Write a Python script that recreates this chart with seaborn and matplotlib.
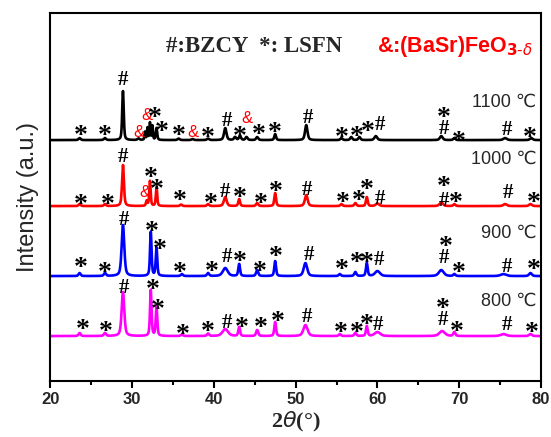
import numpy as np
import pandas as pd
import matplotlib
matplotlib.use("Agg")
import matplotlib.pyplot as plt
import seaborn as sns
from matplotlib.ticker import MultipleLocator

# ---------------- data ----------------
series_names = ["1100 ℃", "1000 ℃", "900 ℃", "800 ℃"]
series_colors = ["#000000", "#FF0000", "#0000FF", "#FF00FF"]
baselines = [241, 175, 105, 45]

# peak positions (2θ), heights, FWHM for each series
pk_1100 = [23.6, 26.7, 28.9, 30.8, 31.6, 31.9, 32.2, 32.5, 33.0, 35.7, 37.4, 39.3, 41.4, 42.6, 43.2, 44.0, 45.3, 47.5, 51.3, 55.6, 56.8, 57.8, 59.8, 67.8, 69.4, 75.6, 78.8]
ht_1100 = [2, 2, 49, 1.5, 8, 12, 17, 14, 12, 1.5, 1, 1.5, 12, 3, 4, 3, 3, 6, 15, 2, 3, 3, 4, 4, 2, 2, 2]
wd_1100 = [0.3, 0.3, 0.22, 0.3, 0.15, 0.15, 0.15, 0.15, 0.2, 0.3, 0.3, 0.3, 0.35, 0.3, 0.3, 0.3, 0.3, 0.25, 0.35, 0.3, 0.3, 0.3, 0.4, 0.4, 0.3, 0.5, 0.4]

pk_1000 = [23.6, 26.7, 28.9, 31.8, 32.2, 33.0, 36.0, 39.3, 41.4, 43.1, 45.3, 47.5, 51.3, 55.6, 57.3, 58.7, 60.0, 67.8, 69.4, 75.6, 78.7]
ht_1000 = [2, 2, 41, 5, 25, 19, 1.5, 2, 9, 7, 3, 13, 11, 2, 3, 9, 2.5, 3.5, 2, 2, 2]
wd_1000 = [0.3, 0.3, 0.27, 0.2, 0.2, 0.2, 0.3, 0.3, 0.4, 0.25, 0.3, 0.25, 0.4, 0.3, 0.3, 0.25, 0.5, 0.5, 0.3, 0.5, 0.4]

pk_900 = [23.6, 26.7, 28.9, 32.3, 33.0, 36.1, 39.3, 41.4, 43.1, 45.3, 47.5, 51.2, 55.4, 57.3, 58.7, 60.0, 67.8, 69.4, 75.4, 78.7]
ht_900 = [3, 3, 51, 44, 28, 2, 3, 8, 12, 6, 15, 13, 2, 4, 13, 5, 6, 2, 2, 3]
wd_900 = [0.3, 0.3, 0.38, 0.22, 0.22, 0.3, 0.3, 0.7, 0.25, 0.3, 0.25, 0.5, 0.3, 0.3, 0.25, 0.7, 0.7, 0.3, 0.8, 0.4]

pk_800 = [23.6, 26.7, 28.9, 32.3, 33.0, 36.1, 39.3, 41.4, 43.1, 45.3, 47.5, 51.2, 55.4, 57.3, 58.7, 60.0, 67.9, 69.4, 75.4, 78.7]
ht_800 = [3, 3, 44, 46, 29, 1.5, 2.5, 7, 9, 6, 14, 11, 2, 3, 10, 4, 5, 4, 2, 2]
wd_800 = [0.3, 0.3, 0.38, 0.22, 0.22, 0.3, 0.3, 0.8, 0.25, 0.3, 0.25, 0.6, 0.3, 0.3, 0.25, 0.8, 0.8, 0.3, 0.8, 0.4]

# phase markers: (2θ, symbol, label height)
mk_1100_x = [23.75, 26.7, 28.9, 30.8, 31.8, 32.8, 33.6, 35.7, 37.4, 39.3, 41.6, 43.2, 44.0, 45.5, 47.5, 51.5, 55.6, 57.5, 58.8, 60.3, 68.1, 68.1, 69.9, 75.8, 78.6]
mk_1100_s = ["*", "*", "#", "&", "&", "*", "*", "*", "&", "*", "#", "*", "&", "*", "*", "#", "*", "*", "*", "#", "*", "#", "*", "#", "*"]
mk_1100_y = [250, 250, 301, 249, 266, 268, 254, 250, 249, 248, 260, 249, 263, 251, 253, 263, 248, 249, 254, 256, 268, 252, 244, 251, 248]

mk_1000_x = [23.75, 27.0, 28.9, 31.6, 32.3, 33.0, 35.9, 39.6, 41.4, 43.2, 45.8, 47.6, 51.4, 55.8, 57.7, 58.7, 60.3, 68.1, 68.1, 69.6, 76.0, 79.1]
mk_1000_s = ["*", "*", "#", "&", "*", "*", "*", "*", "#", "*", "*", "*", "#", "*", "*", "*", "#", "*", "#", "*", "#", "*"]
mk_1000_y = [181, 181, 224, 189, 208, 196, 185, 182, 189, 188, 182, 194, 191, 183, 185, 196, 182, 199, 180, 183, 188, 183]

mk_900_x = [23.75, 26.7, 29.0, 32.4, 33.4, 35.9, 39.8, 41.6, 43.2, 45.6, 47.6, 51.6, 55.6, 57.5, 58.7, 60.2, 68.3, 68.1, 69.9, 75.8, 79.1]
mk_900_s = ["*", "*", "#", "*", "*", "*", "*", "#", "*", "*", "*", "#", "*", "*", "*", "#", "*", "#", "*", "#", "*"]
mk_900_y = [118, 113, 161, 154, 136, 113, 114, 124, 124, 114, 129, 126, 116, 123, 123, 121, 139, 123, 113, 114, 116]

mk_800_x = [24.0, 26.8, 29.0, 32.6, 33.1, 36.2, 39.3, 41.6, 43.4, 45.7, 47.8, 51.4, 55.5, 57.5, 58.7, 60.1, 68.0, 68.0, 69.7, 75.8, 78.9]
mk_800_s = ["*", "*", "#", "*", "*", "*", "*", "#", "*", "*", "*", "#", "*", "*", "*", "#", "*", "#", "*", "#", "*"]
mk_800_y = [56, 54, 93, 96, 76, 51, 54, 58, 58, 58, 64, 64, 53, 53, 61, 56, 77, 61, 54, 56, 53]

x_ticks = [20, 30, 40, 50, 60, 70, 80]

peaks = [(pk_1100, ht_1100, wd_1100), (pk_1000, ht_1000, wd_1000),
         (pk_900, ht_900, wd_900), (pk_800, ht_800, wd_800)]
marks = [(mk_1100_x, mk_1100_s, mk_1100_y), (mk_1000_x, mk_1000_s, mk_1000_y),
         (mk_900_x, mk_900_s, mk_900_y), (mk_800_x, mk_800_s, mk_800_y)]

# ---------------- build profiles from the peak lists ----------------
two_theta = np.linspace(20, 80, 3001)

def profile(pos, h, w):
    y = np.zeros_like(two_theta)
    for p, a, fw in zip(pos, h, w):
        g = np.exp(-4 * np.log(2) * ((two_theta - p) / fw) ** 2)
        l = 1.0 / (1.0 + 4 * ((two_theta - p) / fw) ** 2)
        y += a * (0.5 * g + 0.5 * l)
    return y

frames = []
for name, base, (pos, h, w) in zip(series_names, baselines, peaks):
    frames.append(pd.DataFrame({"2theta": two_theta,
                                "I": base + profile(pos, h, w),
                                "T": name}))
df = pd.concat(frames, ignore_index=True)

# ---------------- plot ----------------
sns.set_theme(style="ticks")
plt.rcParams["font.family"] = ["Liberation Sans", "DejaVu Sans"]

fig = plt.figure(figsize=(5.51, 4.37), dpi=100)
ax = fig.add_axes([0.091, 0.128, 0.891, 0.842])

sns.lineplot(data=df, x="2theta", y="I", hue="T", palette=series_colors,
             hue_order=series_names, linewidth=1.9, legend=False, ax=ax,
             estimator=None, sort=False)

ax.set_xlim(20, 80)
ax.set_ylim(0, 368)
ax.set_yticks([])
ax.set_xticks(x_ticks)
ax.xaxis.set_minor_locator(MultipleLocator(5))
ax.tick_params(axis="x", which="major", direction="out", length=5, width=1.5,
               labelsize=12, pad=3, color="black")
ax.tick_params(axis="x", which="minor", direction="out", length=3, width=1.5, color="black")
for lab in ax.get_xticklabels():
    lab.set_fontweight("bold")
for sp in ax.spines.values():
    sp.set_linewidth(1.5)
    sp.set_color("black")

ax.set_ylabel("Intensity (a.u.)", fontsize=17, labelpad=8)
ax.set_xlabel(r"2$\theta$(°)", fontsize=16, fontweight="bold",
              family=["Liberation Serif"], labelpad=2)

# phase markers
for (mx, ms, my) in marks:
    for x, s, y in zip(mx, ms, my):
        if s == "&":
            ax.text(x, y, s, color="#FF0000", fontsize=12, ha="center", va="center",
                    family=["Liberation Sans"])
        elif s == "*":
            ax.text(x, y - 5, s, color="black", fontsize=20, ha="center", va="center",
                    fontweight="bold", family=["Liberation Serif"])
        else:
            ax.text(x, y, s, color="black", fontsize=15, ha="center", va="center",
                    fontweight="bold", family=["Liberation Serif"])

# temperature labels
temp_y = [279, 222, 148, 80]
for name, ty in zip(series_names, temp_y):
    ax.text(79.4, ty, name, ha="right", va="center", fontsize=13)

# phase legend
ax.text(34.2, 335, "#:BZCY  *: LSFN", ha="left", va="center", fontsize=16.5,
        fontweight="bold", family=["Liberation Serif"])
ax.text(60.0, 335, r"&:(BaSr)FeO$_{\mathbf{3\text{-}}\mathit{\delta}}$", ha="left", va="center",
        fontsize=15.5, fontweight="bold", color="#FF0000")

fig.savefig("out.png", dpi=100)
